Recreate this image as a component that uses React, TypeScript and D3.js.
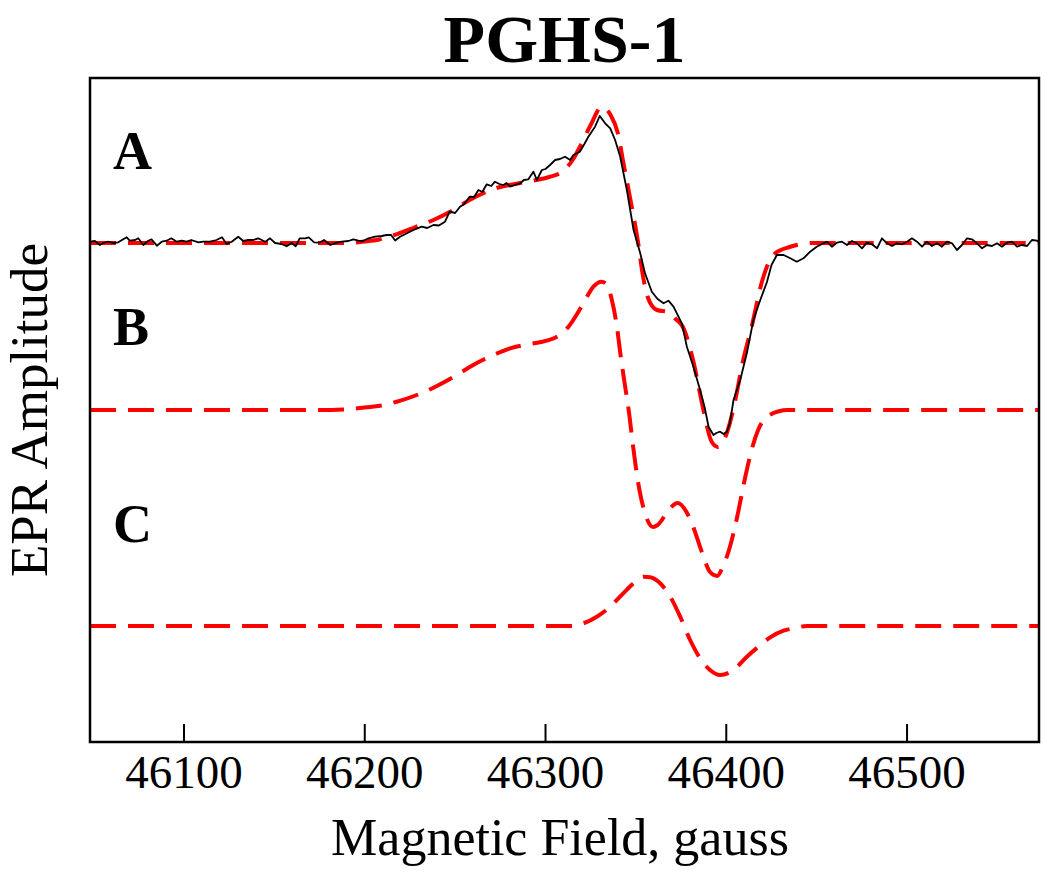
import React from 'react';
import * as d3 from 'd3';

// field (gauss), amplitude (arbitrary units, relative to each trace's baseline)
type Pt = [number, number];

const spectrumA: Pt[] = [
  [46048, 0.13], [46050.7, 0.2], [46053.5, -0.2], [46055.3, 0], [46058, 0.13], [46061, 0], [46063.6, 0.07],
  [46066.4, 0.37], [46068.3, 0.57], [46070, 0.23], [46073, 0.3], [46074.7, 0.47], [46077.5, -0.2], [46080, 0.2],
  [46082, 0.37], [46085, -0.27], [46087.7, 0.13], [46090.4, 0.23], [46093, 0.47], [46096, 0.13], [46098.7, 0.23],
  [46101.5, 0.13], [46104, 0.3], [46108, 0.07], [46110.7, 0.13], [46114.4, 0.13], [46118, 0.3], [46121, 0.57],
  [46123.6, -0.1], [46126.4, 0.13], [46130, 0.63], [46132.8, 0.2], [46135.6, 0.3], [46138.4, 0.3], [46141, 0.47],
  [46145, 0.13], [46147.6, 0.47], [46150.4, 0], [46154, -0.1], [46156.8, -0.33], [46159.6, 0], [46161.8, -0.33],
  [46164, 0.47], [46167, 0.47], [46169, 0.57], [46172, 0.07], [46174.7, 0.03], [46177.5, 0.3], [46181, -0.2],
  [46184.5, 0.03], [46187.3, 0.13], [46191, 0.2], [46193.7, 0.37], [46196.5, 0.23], [46199, 0.2], [46202, 0.47],
  [46205.7, 0.63], [46209.4, 0.7], [46212, 0.8], [46214.6, 0.8], [46216.8, 0.25], [46219.5, 0.63], [46222.3, 0.87],
  [46225, 1.13], [46227, 1.3], [46231.5, 1.63], [46234.5, 1.5], [46238, 1.8], [46241, 1.75], [46244.4, 2.13],
  [46247, 3.13], [46250, 3.0], [46252.7, 3.63], [46255, 3.9], [46258, 4.63], [46260.5, 4.6], [46262.9, 5.3],
  [46265, 5.1], [46267.5, 5.87], [46270, 5.7], [46272, 6.13], [46274.5, 5.9], [46276.7, 5.8], [46278.5, 6.0],
  [46280.4, 5.63], [46283, 5.8], [46286, 5.97], [46288, 6.3], [46290.5, 6.37], [46293.3, 7.13], [46295.2, 6.3],
  [46298, 7.3], [46300, 7.4], [46302.5, 7.8], [46305.3, 8.3], [46308, 8.4], [46310.8, 8.63], [46313.6, 8.3],
  [46315.4, 8.8], [46319, 9.13], [46321.5, 9.9], [46323.7, 10.63], [46327.4, 11.63], [46330, 12.7], [46333, 11.97],
  [46335.8, 11.47], [46338.5, 10.3], [46341.3, 8.63], [46345, 5.3], [46348.7, 1.3], [46352.4, -1.03], [46355, -3.0],
  [46358.8, -4.87], [46362, -5.6], [46365.3, -6.03], [46368, -5.77], [46370.8, -6.37], [46375.4, -8.03],
  [46378.2, -10.37], [46381.8, -12.37], [46385.5, -14.7], [46388, -16.4], [46390.2, -18.37], [46392.9, -19.2],
  [46394.5, -19.0], [46396.6, -18.87], [46398.5, -19.1], [46400.3, -18.87], [46402, -18.0], [46404, -15.7],
  [46407.7, -13.7], [46411.4, -11.0], [46415, -7.7], [46418.8, -5.7], [46422.5, -3.9], [46425, -2.2], [46428, -1.2],
  [46431.7, -1.2], [46435.4, -1.53], [46439, -1.87], [46442.7, -1.53], [46446.4, -0.87], [46450, -0.37],
  [46453.8, -0.03], [46455.7, 0.13], [46458.4, -0.37], [46461.2, 0.03], [46464, 0.13], [46466.8, -0.2],
  [46469.5, 0.2], [46472.3, -0.03], [46475.1, -0.53], [46477.8, 0.03], [46480.6, -0.13], [46483.4, -0.53],
  [46486.1, 0.47], [46488.9, -0.03], [46491.7, -0.3], [46494.4, -0.03], [46497.2, -0.13], [46500, 0.13],
  [46502.7, 0.47], [46505.5, 0.13], [46508.3, -0.37], [46511, 0.13], [46513.8, -0.3], [46516.6, -0.03],
  [46519.3, -0.37], [46522.1, 0.13], [46524.9, -0.03], [46527.6, -0.7], [46530.4, -0.2], [46533.2, 0.47],
  [46535.9, 0.37], [46538.7, -0.03], [46541.5, -0.53], [46544.2, -0.2], [46547, -0.3], [46549.8, -0.03],
  [46552.5, -0.37], [46555.3, 0.03], [46558.1, 0.13], [46560.8, -0.37], [46563.6, -0.2], [46566.4, -0.3],
  [46569.1, 0.3], [46571.9, 0.23], [46573, 0.1],
];

const fitA: Pt[] = [
  [46048, 0], [46190, 0], [46200, 0.15], [46208, 0.35], [46219.5, 1.0], [46228, 1.6], [46238, 2.3], [46247, 3.1],
  [46258, 4.3], [46273, 5.5], [46286, 6.0], [46295, 6.3], [46302, 6.6], [46309, 7.1], [46315, 8.3], [46319, 9.6],
  [46325, 11.8], [46331, 13.6], [46336, 12.8], [46340, 11.0], [46343, 8.1], [46347, 4.3], [46351, 0.3],
  [46354, -3.4], [46356.5, -5.4], [46361.6, -6.7], [46368, -6.9], [46372, -7.6], [46376, -8.4], [46382, -12.0],
  [46387, -16.4], [46392, -19.9], [46395.5, -20.4], [46400.5, -18.9], [46405, -15.7], [46409, -12.0],
  [46414, -8.4], [46420, -3.7], [46426, -1.2], [46435, -0.4], [46448, 0], [46573, 0],
];

const componentB: Pt[] = [
  [46048, 0], [46175, 0], [46188, 0.05], [46201, 0.27], [46208.5, 0.43], [46217.7, 0.83], [46228.8, 1.5],
  [46238, 2.23], [46251, 3.5], [46258.3, 4.33], [46271.2, 5.5], [46280.4, 6.17], [46291.5, 6.6], [46300.7, 6.93],
  [46306.3, 7.33], [46312.7, 8.33], [46318.2, 9.83], [46322.9, 11.33], [46326.5, 12.33], [46331, 12.83],
  [46334, 12.5], [46336.7, 11.0], [46339.5, 8.33], [46341.5, 5.5], [46343.5, 3.0], [46346, 0], [46348.5, -3.7],
  [46351, -7.0], [46355, -10.3], [46359.5, -11.7], [46362, -11.5], [46369, -9.8], [46373, -9.3], [46378, -10.2],
  [46381.7, -11.7], [46386.7, -14.3], [46391, -16.2], [46395, -16.6], [46398, -15.7], [46402, -13.7],
  [46406, -10.7], [46410.5, -6.7], [46414, -4.0], [46417.6, -2.0], [46424, -0.5], [46434, 0], [46573, 0],
];

const componentC: Pt[] = [
  [46048, 0], [46314.6, 0], [46321, 0.27], [46328.4, 0.93], [46335.7, 1.93], [46343, 3.27], [46348.7, 4.27],
  [46354.2, 4.93], [46357.9, 4.87], [46363.4, 4.27], [46369, 2.93], [46374.5, 0.93], [46380, -1.4],
  [46385.5, -3.23], [46391, -4.4], [46396.6, -4.9], [46404, -4.4], [46411.4, -3.07], [46417.8, -2.07],
  [46424.3, -1.13], [46431.7, -0.47], [46438.1, -0.2], [46444.6, 0], [46573, 0],
];

// vertical offsets of the stacked traces
const traceOffsets = { A: 0, B: -16.7, C: -38.3 };
const traceLabels = ['A', 'B', 'C'];
const xTicks = [46100, 46200, 46300, 46400, 46500];

const W = 1050;
const H = 874;
const frame = { left: 90, right: 1039, top: 78, bottom: 742 };

export default function App() {
  const x = d3.scaleLinear().domain([46048, 46573]).range([frame.left, frame.right]);
  const y = d3.scaleLinear().domain([-49.9, 16.5]).range([frame.bottom, frame.top]);

  const smooth = (off: number) =>
    d3.line<Pt>().x(d => x(d[0])).y(d => y(d[1] + off)).curve(d3.curveMonotoneX);
  const raw = d3.line<Pt>().x(d => x(d[0])).y(d => y(d[1] + traceOffsets.A));

  const font = "'Liberation Serif', 'Times New Roman', serif";
  const red = '#ff0000';
  const dash = '26 12';

  const letterY = [169, 345, 542];

  return (
    <div style={{ position: 'absolute', left: 0, top: 0 }}>
      <svg width={W} height={H} style={{ display: 'block', background: '#fff' }} fontFamily={font}>
        <defs>
          <clipPath id="plotClip">
            <rect x={frame.left} y={frame.top} width={frame.right - frame.left} height={frame.bottom - frame.top} />
          </clipPath>
        </defs>
        <rect x={0} y={0} width={W} height={H} fill="#fff" />

        <text x={(frame.left + frame.right) / 2} y={62} textAnchor="middle" fontSize={68} fontWeight="bold">
          PGHS-1
        </text>

        <g clipPath="url(#plotClip)" fill="none">
          <path d={smooth(traceOffsets.A)(fitA) || ''} stroke={red} strokeWidth={4} strokeDasharray={dash} />
          <path d={raw(spectrumA) || ''} stroke="#000" strokeWidth={1.8} strokeLinejoin="round" />
          <path d={smooth(traceOffsets.B)(componentB) || ''} stroke={red} strokeWidth={4} strokeDasharray={dash} />
          <path d={smooth(traceOffsets.C)(componentC) || ''} stroke={red} strokeWidth={4} strokeDasharray={dash} />
        </g>

        {traceLabels.map((t, i) => (
          <text key={t} x={113} y={letterY[i]} fontSize={54} fontWeight="bold">
            {t}
          </text>
        ))}

        <rect
          x={frame.left}
          y={frame.top}
          width={frame.right - frame.left}
          height={frame.bottom - frame.top}
          fill="none"
          stroke="#000"
          strokeWidth={2.5}
        />

        {xTicks.map(t => (
          <g key={t}>
            <line x1={x(t)} x2={x(t)} y1={frame.bottom} y2={frame.bottom - 18} stroke="#000" strokeWidth={2} />
            <text x={x(t)} y={788} textAnchor="middle" fontSize={47}>
              {t}
            </text>
          </g>
        ))}

        <text x={560} y={855} textAnchor="middle" fontSize={52}>
          Magnetic Field, gauss
        </text>
        <text
          transform={`translate(47, ${(frame.top + frame.bottom) / 2}) rotate(-90)`}
          textAnchor="middle"
          fontSize={53}
        >
          EPR Amplitude
        </text>
      </svg>
    </div>
  );
}
